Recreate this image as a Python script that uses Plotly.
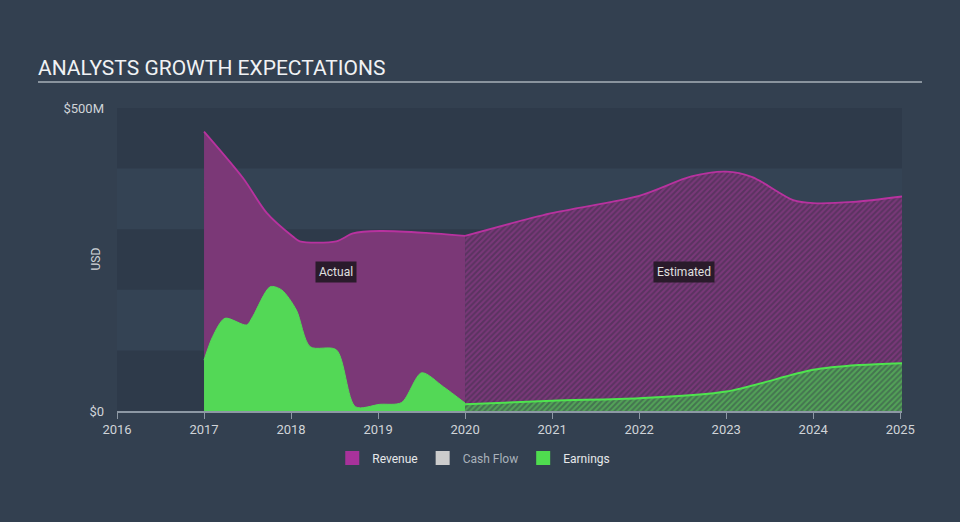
import plotly.graph_objects as go

# ---- data (USD millions) ----
rev_act_x = [2017.0, 2017.45, 2017.72, 2018.02, 2018.1, 2018.52, 2018.71, 2019.02, 2019.55, 2020.0]
rev_act_y = [461, 384, 327, 288, 280, 280, 293, 297, 294, 289]
rev_est_x = [2020.0, 2020.98, 2022.0, 2022.6, 2023.0, 2023.3, 2023.77, 2024.0, 2024.46, 2025.02]
rev_est_y = [289, 326, 355, 387, 395, 386, 348, 343, 345, 354]

earn_act_x = [2017.0, 2017.1, 2017.24, 2017.49, 2017.56, 2017.76, 2017.89, 2018.06, 2018.22,
              2018.52, 2018.74, 2019.02, 2019.27, 2019.5, 2019.75, 2020.0]
earn_act_y = [84, 123, 153, 142, 156, 205, 200, 167, 106, 101, 7, 11, 14, 63, 40, 13]
earn_est_x = [2020.0, 2021.0, 2022.0, 2023.0, 2024.0, 2024.54, 2025.02]
earn_est_y = [11, 17, 21, 32, 68, 76, 79]

x_ticks = [2016, 2017, 2018, 2019, 2020, 2021, 2022, 2023, 2024, 2025]
y_ticks = [0, 500]
y_tick_labels = ["$0", "$500M"]

legend_names = ["Revenue", "Cash Flow", "Earnings"]
legend_colors = ["#a8329b", "#cccccc", "#4fdc4f"]

REV_LINE = "#b8329f"
REV_FILL = "#7b3877"
EARN_FILL = "#53d856"
EARN_LINE = "#4ee44e"

fig = go.Figure()

fig.add_trace(go.Scatter(x=rev_act_x, y=rev_act_y, mode="lines", line=dict(color=REV_LINE, width=1.8, shape="spline", smoothing=0.8),
                         fill="tozeroy", fillcolor=REV_FILL, showlegend=False, hoverinfo="skip"))
fig.add_trace(go.Scatter(x=rev_est_x, y=rev_est_y, mode="lines", line=dict(color=REV_LINE, width=1.8, shape="spline", smoothing=0.8),
                         fill="tozeroy",
                         fillpattern=dict(shape="/", fgcolor="#993d92", bgcolor="#5a3360", size=4, solidity=0.5),
                         showlegend=False, hoverinfo="skip"))
fig.add_trace(go.Scatter(x=earn_act_x, y=earn_act_y, mode="lines", line=dict(color=EARN_FILL, width=1, shape="spline", smoothing=0.8),
                         fill="tozeroy", fillcolor=EARN_FILL, showlegend=False, hoverinfo="skip"))
fig.add_trace(go.Scatter(x=earn_est_x, y=earn_est_y, mode="lines", line=dict(color=EARN_LINE, width=2, shape="spline", smoothing=0.8),
                         fill="tozeroy",
                         fillpattern=dict(shape="/", fgcolor="#62d25f", bgcolor="#447450", size=4, solidity=0.5),
                         showlegend=False, hoverinfo="skip"))

for name, col in zip(legend_names, legend_colors):
    label = name if name != "Cash Flow" else '<span style="color:#aab2bb">Cash Flow</span>'
    fig.add_trace(go.Scatter(x=[None], y=[None], mode="markers", name=label,
                             marker=dict(symbol="square", size=14, color=col)))

# background bands
shapes = []
for lo in (0, 200, 400):
    shapes.append(dict(type="rect", xref="paper", yref="y", x0=0, x1=1, y0=lo, y1=lo + 100,
                       fillcolor="#2e3a4a", line=dict(width=0), layer="below"))
# title underline
shapes.append(dict(type="line", xref="paper", yref="paper", x0=(38 - 117) / 785, x1=(922 - 117) / 785,
                   y0=(411 - 82) / 303, y1=(411 - 82) / 303, line=dict(color="#a9b0b8", width=1.5)))

annotations = [
    dict(x=2018.52, y=229, xref="x", yref="y", text="Actual", showarrow=False,
         bgcolor="#2a1b2b", font=dict(color="#e0e0e0", size=12), borderpad=3),
    dict(x=2022.51, y=229, xref="x", yref="y", text="Estimated", showarrow=False,
         bgcolor="#2a1b2b", font=dict(color="#e0e0e0", size=12), borderpad=3),
    dict(x=(86 - 117) / 785, y=0.5, xref="paper", yref="paper", text="USD", textangle=-90, showarrow=False,
         font=dict(color="#d0d4d8", size=12)),
]

fig.update_layout(
    width=960, height=522,
    margin=dict(l=117, r=58, t=108, b=111, autoexpand=False),
    paper_bgcolor="#334050",
    plot_bgcolor="#344354",
    font=dict(family="Roboto", color="#d0d4d8", size=12),
    title=dict(text="ANALYSTS GROWTH EXPECTATIONS", xref="container", yref="container",
               x=38 / 960, y=1 - 68 / 522, xanchor="left", yanchor="middle",
               font=dict(family="Roboto", size=21, color="#f0f2f4")),
    xaxis=dict(range=[2016, 2025.02], tickvals=x_ticks, showgrid=False, zeroline=False, automargin=False,
               showline=True, linecolor="#8d98a4", linewidth=1.5, ticks="outside", ticklen=6,
               tickcolor="#8d98a4", tickfont=dict(size=13, color="#d0d4d8")),
    yaxis=dict(range=[0, 500], tickvals=y_ticks, ticktext=y_tick_labels, showgrid=False, zeroline=False,
               automargin=False,
               showline=False, ticks="", ticklabelstandoff=12, tickfont=dict(size=13, color="#d0d4d8")),
    shapes=shapes,
    annotations=annotations,
    legend=dict(orientation="h", xref="container", yref="container", x=0.4935, y=1 - 458 / 522,
                xanchor="center", yanchor="middle", font=dict(size=12, color="#e6e8ea"),
                bgcolor="rgba(0,0,0,0)", itemwidth=30),
    showlegend=True,
)

fig.write_html("out.html", config={"displayModeBar": False},
               post_script="document.body.style.margin='0px';document.body.style.overflow='hidden';")
